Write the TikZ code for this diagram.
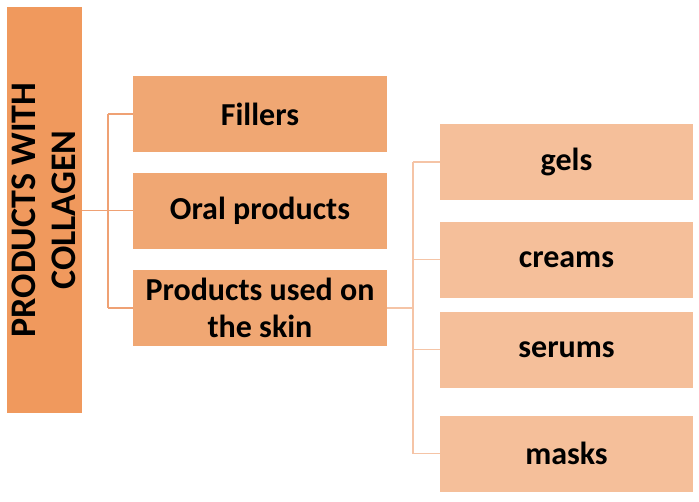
\documentclass[tikz,border=0pt]{standalone}
\usepackage{fontspec}
\setmainfont{Carlito}
\definecolor{rootc}{HTML}{F0995D}
\definecolor{lvlone}{HTML}{F0A773}
\definecolor{lvltwo}{HTML}{F5BF9A}
\definecolor{linone}{HTML}{EFA174}
\definecolor{lintwo}{HTML}{F5C4A6}
\begin{document}
\begin{tikzpicture}[x=1pt,y=-1pt,
  boxbase/.style={draw=none,inner sep=0pt,align=center,font=\fontsize{32}{37}\selectfont\bfseries,text=black},
  rootbox/.style={boxbase,fill=rootc,minimum width=406pt,minimum height=75pt,rotate=90,font=\fontsize{36}{40}\selectfont\bfseries},
  onebox/.style={boxbase,fill=lvlone,minimum width=254pt,minimum height=76pt},
  twobox/.style={boxbase,fill=lvltwo,minimum width=253pt,minimum height=76pt},
  conone/.style={draw=linone,line width=1.2pt},
  contwo/.style={draw=lintwo,line width=1.2pt}]
\useasboundingbox (0,0) rectangle (699,501);
\node[rootbox] (root) at (44,210) {PRODUCTS WITH\\COLLAGEN};
\node[onebox] (fill) at (260,114) {Fillers};
\node[onebox] (oral) at (260,210.5) {Oral products};
\node[onebox] (skin) at (260,308) {Products used on\\the skin};
\node[twobox] (gels) at (566.5,162) {gels};
\node[twobox] (crea) at (566.5,259.5) {creams};
\node[twobox] (seru) at (566.5,349.5) {serums};
\node[twobox] (mask) at (566.5,453.5) {masks};
\coordinate (b1) at (108,0);
\coordinate (b2) at (413,0);
\draw[conone] (root.south |- oral.west) -- (oral.west);
\draw[conone] (b1 |- fill.west) -- (b1 |- skin.west);
\draw[conone] (b1 |- fill.west) -- (fill.west);
\draw[conone] (b1 |- skin.west) -- (skin.west);
\draw[contwo] (skin.east) -- (b2 |- skin.east);
\draw[contwo] (b2 |- gels.west) -- (b2 |- mask.west);
\draw[contwo] (b2 |- gels.west) -- (gels.west);
\draw[contwo] (b2 |- crea.west) -- (crea.west);
\draw[contwo] (b2 |- seru.west) -- (seru.west);
\draw[contwo] (b2 |- mask.west) -- (mask.west);
\end{tikzpicture}
\end{document}
